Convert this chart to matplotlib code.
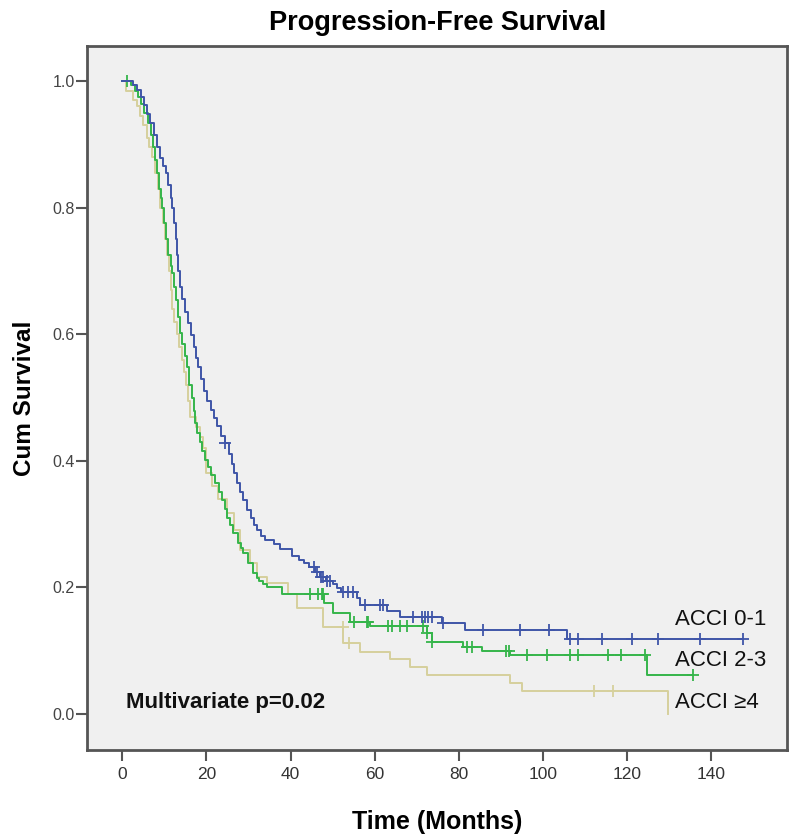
import numpy as np
import matplotlib
matplotlib.use("Agg")
import matplotlib.pyplot as plt

# Kaplan-Meier steps (time in months, cum survival)
t_01 = [0, 2.5, 3.5, 4.5, 5.3, 6, 6.7, 7.5, 8.3, 9, 9.8, 10.5, 11, 11.5, 11.9, 12.3,
        12.7, 13, 13.3, 13.8, 14.3, 15, 15.7, 16.3, 17, 17.6, 18.1, 18.8, 19.5, 20.2,
        21, 21.8, 22.5, 23.5, 24.5, 25.3, 26, 26.6, 27.2, 28, 28.8, 29.6, 30.5, 31.3,
        32, 33, 34, 36, 37.6, 40.4, 42, 43.3, 44.5, 45.7, 47, 48.5, 50, 51, 52, 55.8,
        56.6, 63, 66, 76, 81.5, 105.8]
s_01 = [1.0, 0.993, 0.986, 0.975, 0.962, 0.948, 0.934, 0.915, 0.895, 0.878, 0.865,
        0.855, 0.835, 0.815, 0.80, 0.775, 0.75, 0.725, 0.70, 0.675, 0.655, 0.635, 0.618,
        0.598, 0.58, 0.563, 0.548, 0.53, 0.51, 0.495, 0.48, 0.467, 0.455, 0.44, 0.428,
        0.41, 0.395, 0.38, 0.365, 0.35, 0.338, 0.322, 0.31, 0.298, 0.29, 0.282, 0.275,
        0.268, 0.26, 0.25, 0.243, 0.238, 0.232, 0.224, 0.216, 0.21, 0.205, 0.199, 0.193,
        0.183, 0.172, 0.162, 0.153, 0.144, 0.133, 0.118]
end_01 = 147.6
cens_01 = [24.5, 45.5, 46.4, 47.2, 47.8, 48.6, 49.4, 52.5, 53.7, 54.9, 57.8, 61.3, 62,
           69.2, 71.3, 72, 72.7, 73.7, 76.3, 85.8, 94.6, 101.5, 106.3, 108.2, 114.1,
           121.2, 127.4, 137.4, 147.4]

t_23 = [0, 2, 3, 3.8, 4.5, 5.3, 6.2, 6.8, 7.4, 7.9, 8.3, 8.8, 9.2, 9.5, 10, 10.5, 11,
        11.5, 11.9, 12.3, 12.8, 13.3, 13.8, 14.3, 14.9, 15.4, 16, 16.5, 17, 17.4, 17.8,
        18.4, 19, 19.7, 20.4, 21.2, 22, 22.9, 23.8, 24.4, 25, 25.7, 26.4, 27.5, 28.2,
        28.8, 30, 31.1, 32, 32.5, 33.5, 34.5, 38, 48, 50, 54.2, 59, 72.5, 73.7, 81,
        85.5, 92.2, 124.8]
s_23 = [1.0, 0.993, 0.985, 0.975, 0.963, 0.95, 0.934, 0.915, 0.895, 0.875, 0.855, 0.83,
        0.815, 0.80, 0.775, 0.75, 0.725, 0.708, 0.697, 0.675, 0.654, 0.628, 0.602, 0.585,
        0.565, 0.548, 0.52, 0.50, 0.478, 0.46, 0.444, 0.43, 0.415, 0.402, 0.39, 0.378,
        0.365, 0.35, 0.338, 0.324, 0.31, 0.298, 0.286, 0.27, 0.262, 0.254, 0.238, 0.223,
        0.215, 0.21, 0.205, 0.2, 0.19, 0.175, 0.16, 0.145, 0.139, 0.128, 0.114, 0.106,
        0.10, 0.093, 0.062]
end_23 = 135.7
cens_23 = [1.2, 44.7, 46.6, 47.5, 47.8, 55, 58.2, 58.5, 63.2, 64.2, 66, 67.7, 71.5,
           72.5, 73.7, 82, 83, 91.3, 92, 96.3, 101, 106.5, 108.4, 115.5, 118.4, 124.3,
           135.7]

t_4 = [0, 1, 2.5, 3.5, 4.3, 5, 5.8, 6.5, 7.1, 7.8, 8.5, 9, 9.6, 10.2, 10.7, 11.2, 11.5,
       11.9, 12.4, 13, 13.6, 14.2, 14.7, 15.2, 15.7, 16.2, 17.5, 18.4, 19.3, 20, 21.4,
       22.8, 25, 26.5, 28, 30.4, 32, 34.5, 39.3, 41.6, 47.7, 52.5, 56.6, 63.7, 68.5,
       72.5, 92.2, 95, 129.8]
s_4 = [1.0, 0.985, 0.97, 0.96, 0.945, 0.93, 0.91, 0.895, 0.88, 0.855, 0.83, 0.80, 0.775,
       0.75, 0.725, 0.70, 0.67, 0.64, 0.62, 0.60, 0.58, 0.56, 0.54, 0.52, 0.495, 0.47,
       0.453, 0.437, 0.42, 0.38, 0.36, 0.34, 0.317, 0.29, 0.259, 0.238, 0.216, 0.207,
       0.19, 0.167, 0.137, 0.112, 0.098, 0.087, 0.074, 0.062, 0.049, 0.036, 0.0]
end_4 = 129.8
cens_4 = [52.4, 53.8, 112, 116.7]

groups = ["ACCI 0-1", "ACCI 2-3", "ACCI \u22654"]
colors = ["#3f55a8", "#35b54a", "#d6d09c"]

fig = plt.figure(figsize=(8, 8.4), dpi=100)
ax = fig.add_axes([0.109, 0.107, 0.875, 0.838])
ax.set_facecolor("#f0f0f0")

series = [(t_01, s_01, end_01, cens_01), (t_23, s_23, end_23, cens_23), (t_4, s_4, end_4, cens_4)]
# tan one first so blue/green sit on top
for i in [2, 1, 0]:
    t, s, end, cens = series[i]
    tt = np.array(t + [end])
    ss = np.array(s + [s[-1]])
    ax.step(tt, ss, where="post", color=colors[i], lw=1.4)
    idx = np.searchsorted(np.array(t), np.array(cens), side="right") - 1
    cy = np.array(s)[idx]
    ax.plot(cens, cy, "+", color=colors[i], ms=8, mew=1.3, ls="none")

ax.set_xlim(-8.3, 158)
ax.set_ylim(-0.057, 1.055)
ax.set_xticks(range(0, 141, 20))
ax.set_yticks([0.0, 0.2, 0.4, 0.6, 0.8, 1.0])
ax.set_yticklabels(["0.0", "0.2", "0.4", "0.6", "0.8", "1.0"])

sans = ["Liberation Sans", "DejaVu Sans"]
narrow = ["Liberation Sans Narrow", "Liberation Sans", "DejaVu Sans"]
for lab in ax.get_xticklabels():
    lab.set_family(narrow)
    lab.set_fontsize(12.5)
    lab.set_color("#333333")
for lab in ax.get_yticklabels():
    lab.set_family(sans)
    lab.set_fontsize(11.5)
    lab.set_color("#444444")
ax.tick_params(axis="both", length=8, width=1.5, color="#555555")
ax.tick_params(axis="x", pad=4)
ax.tick_params(axis="y", pad=1)

for sp in ax.spines.values():
    sp.set_color("#555555")
    sp.set_linewidth(2)

ax.set_title("Progression-Free Survival", fontsize=19.5, fontweight="bold",
             family=sans, pad=12)
ax.set_xlabel("Time (Months)", fontsize=18, fontweight="bold", family=narrow, labelpad=20)
ax.set_ylabel("Cum Survival", fontsize=17.5, fontweight="bold", family=narrow, labelpad=12)

lab_y = [0.149, 0.085, 0.019]
for g, y in zip(groups, lab_y):
    ax.text(131.4, y, g, fontsize=16, family=sans, color="#111111", va="center")
ax.text(0.9, 0.019, "Multivariate p=0.02", fontsize=16, fontweight="bold",
        family=sans, color="#111111", va="center")

fig.savefig("out.png", dpi=100)
